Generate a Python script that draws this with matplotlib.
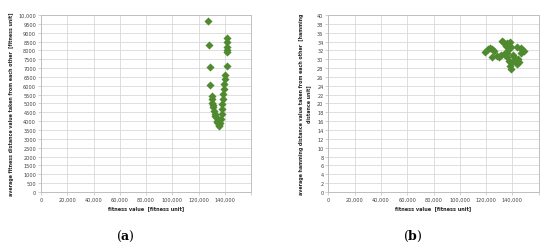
import matplotlib.pyplot as plt
from matplotlib.ticker import FixedLocator

# panel (a): fitness value vs average fitness distance
fit_a = [127400, 128000, 128900, 128800,
         130200, 130400, 130600, 131000, 131200, 131800, 132300, 132800, 133200,
         133700, 134200, 134600, 135200, 135600,
         136200, 136800, 137500, 137900, 138200, 138600, 138900, 139300, 139500,
         139900, 140300, 141500, 142000, 142000, 142000, 142000, 142000]
dist_a = [9640, 8320, 7080, 6060,
          5440, 5254, 5011, 4900, 4786, 4594, 4407, 4300, 4220,
          4030, 3960, 3882, 3746, 3800,
          3882, 4125, 4407, 4690, 4972, 5254, 5537, 5819, 6102,
          6384, 6610, 7136, 7893, 8040, 8200, 8458, 8684]

# panel (b): fitness value vs average hamming distance
fit_b = [119000, 121100, 123100, 124800, 126100, 124800, 129900, 131700, 133200,
         134900, 136200, 138200, 133700, 136200, 135700, 137500, 138200, 139200,
         140000, 141200, 142500, 143800, 145000, 143800, 146300, 147500, 146300,
         148800, 139200, 131500, 128500, 140500, 144500, 137000]
ham_b = [31.7, 32.3, 32.6, 32.3, 31.9, 30.6, 30.6, 34.2, 33.8,
         33.1, 33.7, 33.8, 31.2, 31.5, 30.4, 29.7, 28.5, 27.9,
         29.3, 30.4, 29.7, 28.9, 29.3, 32.7, 32.5, 32.2, 31.5,
         31.9, 32.7, 30.9, 30.8, 31.0, 30.0, 32.2]

xticks = [0, 20000, 40000, 60000, 80000, 100000, 120000, 140000]
yticks_a = list(range(0, 10001, 500))
yticks_b = list(range(0, 41, 2))

green = '#4f8a2f'
grid_c = '#d9d9d9'
edge_c = '#bfbfbf'
txt_c = '#404040'
lab_c = '#262626'

fig = plt.figure(figsize=(5.5, 2.53), dpi=100)
ax_a = fig.add_axes([0.0745, 0.2372, 0.382, 0.6996])
ax_b = fig.add_axes([0.597, 0.2372, 0.3825, 0.6996])


def style(ax, yticks, ylabels):
    ax.set_xlim(0, 160000)
    ax.xaxis.set_major_locator(FixedLocator(xticks + [160000]))
    ax.set_xticklabels(['0'] + [f'{v:,}' for v in xticks[1:]] + [''])
    ax.set_yticks(yticks)
    ax.set_yticklabels(ylabels)
    ax.grid(True, color=grid_c, lw=0.6)
    ax.set_axisbelow(True)
    for s in ax.spines.values():
        s.set_color(edge_c)
        s.set_linewidth(0.7)
    ax.tick_params(labelsize=3.6, colors=txt_c, length=2, width=0.5, pad=1.5)
    ax.tick_params(color=edge_c)


ax_a.scatter(fit_a, dist_a, marker='D', s=17, color=green, lw=0, zorder=3)
ax_a.set_ylim(0, 10000)
style(ax_a, yticks_a, [f'{v:,}' if v >= 10000 else str(v) for v in yticks_a])
ax_a.set_xlabel('fitness value  [fitness unit]', fontsize=3.6, color=lab_c,
                fontweight='semibold', labelpad=2.5)
ax_a.set_ylabel('average fitness distance value taken from each other  [fitness unit]',
                fontsize=3.4, color=lab_c, fontweight='semibold', labelpad=3)

ax_b.scatter(fit_b, ham_b, marker='D', s=17, color=green, lw=0, zorder=3)
ax_b.set_ylim(0, 40)
style(ax_b, yticks_b, [str(v) for v in yticks_b])
ax_b.set_xlabel('fitness value  [fitness unit]', fontsize=3.6, color=lab_c,
                fontweight='semibold', labelpad=2.5)
ax_b.set_ylabel('average hamming distance value taken from each other  [hamming\ndistance unit]',
                fontsize=3.4, color=lab_c, fontweight='semibold', labelpad=4,
                linespacing=1.6)

fig.text(0.2273, 0.05, r'$(\mathbf{a})$', fontsize=9, ha='center',
         math_fontfamily='dejavuserif')
fig.text(0.7509, 0.05, r'$(\mathbf{b})$', fontsize=9, ha='center',
         math_fontfamily='dejavuserif')

fig.savefig('out.png', dpi=100)
